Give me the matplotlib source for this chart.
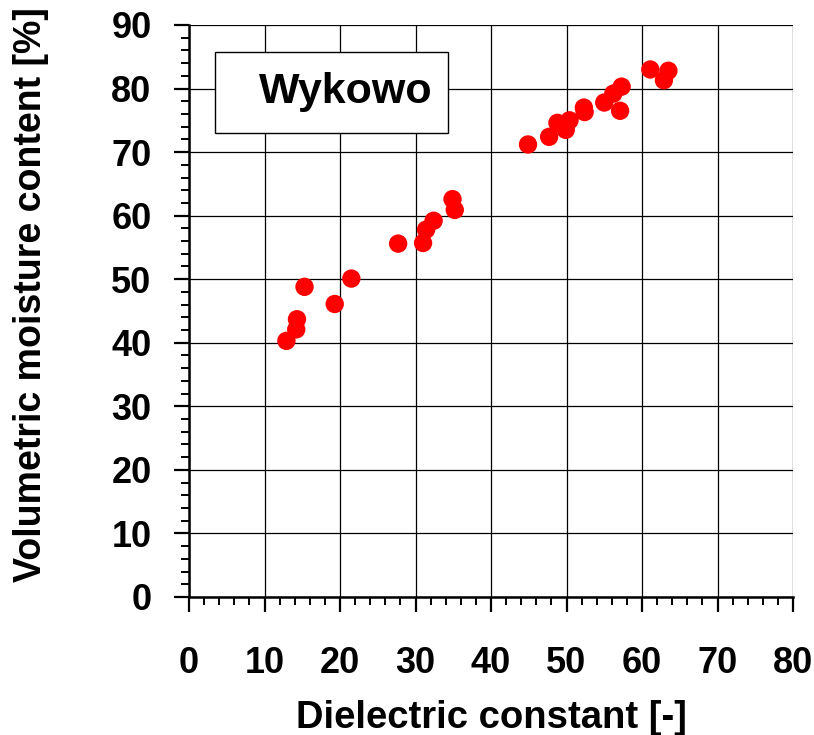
import numpy as np
import matplotlib
matplotlib.use('Agg')
import matplotlib.pyplot as plt
from matplotlib.patches import Rectangle
from matplotlib.ticker import MultipleLocator

plt.rcParams['font.family'] = ['Liberation Sans', 'DejaVu Sans']
plt.rcParams['font.weight'] = 'bold'

# Dielectric constant vs volumetric moisture content
dielectric = [12.9, 14.2, 14.3, 15.3, 19.3, 21.5, 27.7, 31.0, 31.4, 32.4, 34.9, 35.2,
              44.9, 47.7, 48.8, 49.9, 50.4, 52.4, 52.3, 55.0, 56.2, 57.3, 57.1,
              61.1, 62.9, 63.5]
moisture = [40.3, 42.1, 43.7, 48.8, 46.1, 50.1, 55.6, 55.7, 57.8, 59.2, 62.6, 60.9,
            71.2, 72.4, 74.6, 73.5, 75.0, 76.3, 77.0, 77.8, 79.2, 80.3, 76.5,
            83.0, 81.3, 82.8]
site = 'Wykowo'

fig = plt.figure(figsize=(8.14, 7.35), dpi=100)
ax = fig.add_axes([0.2322, 0.1878, 0.742, 0.7782])

ax.scatter(dielectric, moisture, s=175, color='#ff0000', edgecolors='none', zorder=3)

ax.set_xlim(0, 80)
ax.set_ylim(0, 90)
ax.xaxis.set_major_locator(MultipleLocator(10))
ax.xaxis.set_minor_locator(MultipleLocator(2))
ax.yaxis.set_major_locator(MultipleLocator(10))
ax.yaxis.set_minor_locator(MultipleLocator(2))
ax.grid(True, which='major', color='black', linewidth=0.9)
ax.set_axisbelow(True)

for s in ['top', 'right']:
    ax.spines[s].set_visible(False)
for s in ['left', 'bottom']:
    ax.spines[s].set_linewidth(1.8)

ax.tick_params(which='major', direction='out', length=11, width=1.6, labelsize=26)
ax.tick_params(which='minor', direction='out', length=6, width=1.4)
ax.tick_params(axis='x', which='major', pad=24)
ax.tick_params(axis='y', which='major', pad=16)
for lab in ax.get_xticklabels() + ax.get_yticklabels():
    lab.set_fontweight('bold')

ax.set_xlabel('Dielectric constant [-]', fontsize=27.5, fontweight='bold', labelpad=14)
ax.set_ylabel('Volumetric moisture content [%]', fontsize=27, fontweight='bold')
ax.yaxis.set_label_coords(-0.232, 0.528)

# site name box
ax.add_patch(Rectangle((0.043, 0.811), 0.386, 0.142, transform=ax.transAxes,
                       facecolor='white', edgecolor='black', linewidth=1.0, zorder=4))
ax.text(0.26, 0.882, site, transform=ax.transAxes, ha='center', va='center',
        fontsize=31, fontweight='bold', zorder=5)

plt.savefig('out.png', dpi=100)
